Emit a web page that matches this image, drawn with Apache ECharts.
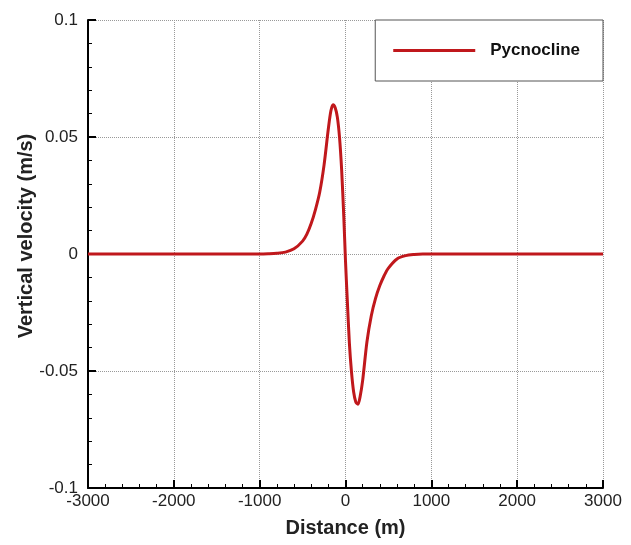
<!DOCTYPE html>
<html><head><meta charset="utf-8">
<script src="https://cdn.jsdelivr.net/npm/echarts@6/dist/echarts.min.js"></script>
<style>html,body{margin:0;padding:0;background:#fff}#c{width:631px;height:545px}</style>
</head><body><div id="c"></div>
<script>
const distance = [-3000, -2000, -1200, -1000, -900, -800, -700, -600, -500, -450, -400, -350, -300, -250, -200, -170, -145, -120, -95, -70, -45, -20, 0, 20, 45, 70, 95, 120, 145, 170, 200, 250, 300, 350, 400, 450, 500, 600, 700, 800, 900, 1000, 1200, 2000, 3000];
const velocity = [0, 0, 0, 0, 0.0001, 0.0003, 0.0008, 0.0022, 0.0055, 0.0085, 0.013, 0.019, 0.0265, 0.038, 0.0535, 0.0612, 0.0638, 0.0625, 0.0585, 0.050, 0.036, 0.016, -0.003, -0.019, -0.038, -0.0505, -0.059, -0.0633, -0.0642, -0.061, -0.054, -0.0375, -0.0265, -0.019, -0.0135, -0.0093, -0.006, -0.0021, -0.0007, -0.0002, 0, 0, 0, 0, 0];
const seriesName = 'Pycnocline';
const xTitle = 'Distance (m)';
const yTitle = 'Vertical velocity (m/s)';

const chart = echarts.init(document.getElementById('c'));
const font = 'Liberation Sans, Arial, sans-serif';
chart.setOption({
  animation: false,
  backgroundColor: '#fff',
  grid: {left: 88, right: 28, top: 20, bottom: 57, containLabel: false},
  legend: {
    data: [seriesName], right: 28, top: 20, orient: 'horizontal',
    icon: 'rect', itemWidth: 82, itemHeight: 3,
    padding: [22, 23, 22, 18],
    borderColor: '#555', borderWidth: 1, backgroundColor: '#fff',
    textStyle: {fontFamily: font, fontSize: 17, fontWeight: 'bold', color: '#111', padding: [0, 0, 0, 10]}
  },
  xAxis: {
    type: 'value', min: -3000, max: 3000, interval: 1000,
    name: xTitle, nameLocation: 'middle', nameGap: 30, nameMoveOverlap: false,
    nameTextStyle: {fontFamily: font, fontSize: 20, fontWeight: 'bold', color: '#222'},
    axisLine: {onZero: false, lineStyle: {color: '#000', width: 2}},
    axisTick: {inside: true, length: 8, lineStyle: {color: '#000', width: 2}},
    minorTick: {show: true, splitNumber: 5, length: 4, lineStyle: {color: '#000', width: 1}},
    axisLabel: {fontFamily: font, fontSize: 17, color: '#222', margin: 5, formatter: v => String(v)},
    splitLine: {show: true, lineStyle: {color: '#999', type: 'dotted', width: 1}}
  },
  yAxis: {
    type: 'value', min: -0.1, max: 0.1, interval: 0.05,
    name: yTitle, nameLocation: 'middle', nameGap: 52, nameRotate: 90, nameMoveOverlap: false,
    nameTextStyle: {fontFamily: font, fontSize: 20, fontWeight: 'bold', color: '#222', padding: [0, 0, 0, 36]},
    axisLine: {onZero: false, lineStyle: {color: '#000', width: 2}},
    axisTick: {inside: true, length: 8, lineStyle: {color: '#000', width: 2}},
    minorTick: {show: true, splitNumber: 5, length: 4, lineStyle: {color: '#000', width: 1}},
    axisLabel: {fontFamily: font, fontSize: 17, color: '#222', margin: 10},
    splitLine: {show: true, lineStyle: {color: '#999', type: 'dotted', width: 1}}
  },
  series: [{
    name: seriesName, type: 'line',
    data: distance.map((d, i) => [d, velocity[i]]),
    symbol: 'none', smooth: 0.3,
    lineStyle: {color: '#c0181c', width: 3},
    itemStyle: {color: '#c0181c'}
  }]
});
</script></body></html>
